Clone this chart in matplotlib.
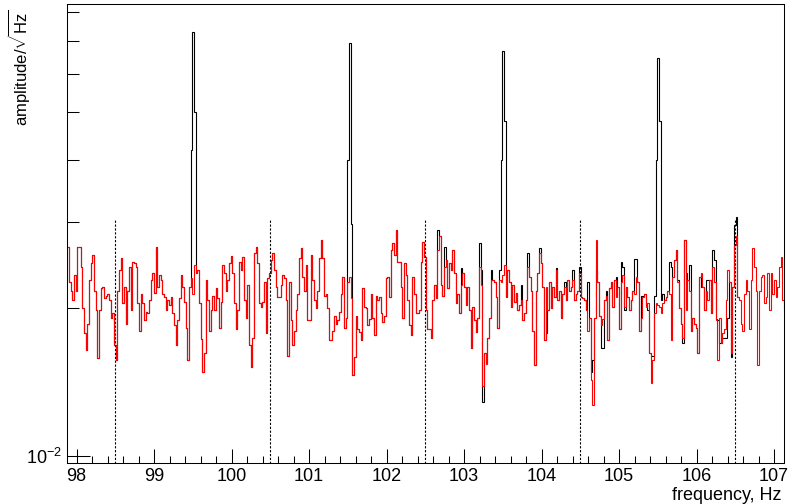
import numpy as np
import matplotlib
matplotlib.use('Agg')
import matplotlib.pyplot as plt
from matplotlib.ticker import FixedLocator, NullFormatter, MultipleLocator

# fonts (ROOT look: Helvetica -> Liberation Sans)
plt.rcParams['font.family'] = ['Liberation Sans', 'DejaVu Sans']
plt.rcParams['mathtext.fontset'] = 'custom'
plt.rcParams['mathtext.rm'] = 'Liberation Sans'
plt.rcParams['mathtext.it'] = 'Liberation Sans:italic'

# ---- data ----
freq_start = 97.879      # Hz, left edge of first bin
freq_step = 0.021511     # Hz, bin width

# amplitude spectra in units of 1e-3 / sqrt(Hz)
red_amp = [
    26.6, 22.6, 21.7, 20.8, 23.3, 21.7, 26.6, 26.6, 24.2, 20.0, 17.8, 16.4, 18.6, 22.8,
    24.7, 25.6, 21.7, 19.8, 15.8, 19.8, 22.0, 22.1, 21.0, 21.2, 21.4, 20.8, 19.1, 19.5,
    16.8, 15.7, 21.7, 23.9, 25.3, 20.5, 22.1, 18.6, 21.7, 24.2, 19.8, 24.8, 24.7, 24.2,
    20.5, 18.0, 21.4, 20.5, 18.9, 19.6, 19.5, 20.8, 22.8, 23.6, 21.5, 26.6, 22.1, 23.3,
    # 99 - 100.5
    22.8, 21.4, 21.1, 19.8, 20.8, 20.3, 21.1, 19.5, 18.5, 16.8, 18.9, 21.0, 23.3, 22.1,
    20.6, 18.2, 15.7, 22.1, 23.0, 21.4, 24.5, 23.6, 23.9, 20.5, 17.3, 14.8, 16.2, 22.8,
    20.8, 18.0, 19.8, 21.2, 19.8, 22.0, 21.0, 18.2, 20.6, 24.5, 23.6, 21.7, 22.8, 24.7,
    25.5, 23.6, 20.5, 18.1, 19.8, 24.8, 23.9, 25.4, 20.8, 19.1, 22.3, 16.8, 15.2, 17.4,
    25.9, 26.6, 24.7, 20.5, 20.1, 20.6, 22.6, 17.8, 23.0, 23.6, 25.0, 25.9, 23.9, 22.1,
    21.1, 21.1,
    # 100.6 - 102.5
    22.3, 23.3, 23.0, 20.8, 16.0, 22.6, 18.9, 16.8, 18.0, 19.8, 21.4, 25.3, 26.5, 23.1,
    21.7, 24.5, 18.9, 18.9, 25.6, 22.8, 20.8, 20.0, 21.7, 25.3, 27.5, 25.3, 21.2, 21.4,
    20.0, 17.2, 17.2, 18.0, 19.3, 18.6, 18.9, 19.6, 21.4, 23.1, 18.2, 19.1, 22.6, 23.1,
    21.0, 14.6, 15.9, 19.3, 18.1, 17.9, 17.2, 22.0, 20.1, 20.0, 18.5, 19.0, 21.4, 19.1,
    17.6, 21.2, 20.8, 21.1, 19.5, 18.7, 19.3, 23.0, 23.1, 21.1, 26.2, 27.1, 25.6, 28.8,
    24.8, 24.8, 22.1, 19.1, 24.7, 23.3, 20.8, 18.5, 17.6, 23.1, 21.4, 19.5, 19.5, 19.8,
    24.8, 27.2, 25.4, 19.8, 18.1, 18.1,
    # 102.6 - 104.8
    17.4, 20.8, 22.3, 21.0, 26.2, 28.1, 22.3, 21.2, 24.2, 25.0, 22.0, 24.7, 23.9, 26.2,
    23.6, 20.5, 21.4, 19.5, 22.3, 23.6, 22.1, 20.3, 22.1, 19.8, 16.6, 20.1, 18.9, 17.9,
    19.1, 24.2, 22.3, 13.9, 16.2, 15.4, 17.4, 19.1, 22.8, 22.8, 22.6, 21.1, 18.2, 22.8,
    22.6, 23.3, 24.5, 21.1, 23.9, 22.6, 20.1, 22.3, 20.6, 21.5, 19.8, 20.3, 20.8, 18.9,
    19.5, 20.8, 24.2, 23.1, 21.7, 18.0, 15.3, 21.7, 23.6, 25.9, 24.7, 22.1, 17.2, 22.1,
    19.8, 22.6, 20.0, 22.1, 21.1, 23.9, 20.8, 21.7, 19.1, 21.4, 22.1, 20.8, 22.8, 21.7,
    22.1, 22.8, 20.8, 21.4, 21.7, 23.6, 21.1, 21.0, 20.8, 19.8, 18.0, 19.1, 14.3, 12.7,
    19.1, 27.5, 22.6, 19.3,
    # 104.8 - 107.1
    18.5, 19.0, 20.8, 21.2, 17.2, 22.0, 22.6, 20.1, 22.8, 21.1, 22.1, 18.1, 22.6, 23.3,
    20.1, 22.1, 21.1, 19.8, 20.8, 21.7, 21.4, 23.1, 22.6, 18.0, 19.1, 21.1, 21.4, 20.1,
    20.5, 16.2, 14.1, 15.7, 19.5, 20.5, 20.3, 20.1, 19.5, 20.5, 20.8, 21.1, 21.7, 21.4,
    17.2, 23.1, 25.0, 26.2, 22.6, 20.0, 18.6, 17.4, 27.5, 19.8, 22.8, 21.7, 18.0, 19.1,
    18.6, 18.2, 16.2, 23.1, 23.6, 22.1, 19.8, 21.7, 20.8, 22.8, 19.5, 24.2, 22.6, 18.9,
    15.7, 19.1, 17.0, 17.8, 18.1, 20.8, 23.9, 22.6, 16.2, 22.1, 26.9, 28.0, 21.1, 20.8,
    18.6, 18.0, 21.4, 22.8, 21.7, 18.1, 22.8, 26.5, 24.2, 21.7, 15.3, 21.7, 23.1, 23.3,
    20.5, 21.1, 23.6, 19.8, 23.6, 21.4, 22.8, 21.1, 22.1, 24.2, 25.4, 20.8, 19.8,
]

black_amp = [
    26.6, 22.6, 21.7, 20.8, 23.3, 21.7, 26.6, 26.6, 24.2, 20.0, 17.8, 16.4, 18.6, 22.8,
    24.7, 25.6, 21.7, 19.8, 15.8, 19.8, 22.0, 22.1, 21.0, 21.2, 21.4, 20.8, 19.1, 19.5,
    16.8, 15.7, 21.7, 23.9, 25.3, 20.5, 22.1, 18.6, 21.7, 24.2, 19.8, 24.8, 24.7, 24.2,
    20.5, 18.0, 21.4, 20.5, 18.9, 19.6, 19.5, 20.8, 22.8, 23.6, 21.5, 26.6, 22.1, 23.3,
    # 99 - 100.5 (line at 99.5 Hz)
    22.8, 21.4, 21.1, 19.8, 20.8, 20.3, 21.1, 19.5, 18.5, 16.8, 18.9, 21.0, 23.3, 22.1,
    20.6, 18.2, 15.7, 22.1, 42.0, 72.8, 50.0, 23.6, 23.9, 20.5, 17.3, 14.8, 16.2, 22.8,
    20.8, 18.0, 19.8, 21.2, 19.8, 22.0, 21.0, 18.2, 20.6, 24.5, 23.6, 21.7, 22.8, 24.7,
    25.5, 23.6, 20.5, 18.1, 19.8, 24.8, 23.9, 25.4, 20.8, 19.1, 22.3, 16.8, 15.2, 17.4,
    25.9, 26.6, 24.7, 20.5, 20.1, 20.6, 22.6, 17.8, 23.0, 23.6, 25.0, 25.9, 23.9, 22.1,
    21.1, 21.1,
    # 100.6 - 102.5 (line at 101.5 Hz)
    22.3, 23.3, 23.0, 20.8, 16.0, 22.6, 18.9, 16.8, 18.0, 19.8, 21.4, 25.3, 26.5, 23.1,
    21.7, 24.5, 18.9, 18.9, 25.6, 22.8, 20.8, 20.0, 21.7, 25.3, 27.5, 25.3, 21.2, 21.4,
    20.0, 17.2, 17.2, 18.0, 19.3, 18.6, 18.9, 19.6, 21.4, 23.1, 18.2, 19.1, 40.0, 69.4,
    29.7, 14.6, 15.9, 19.3, 18.1, 17.9, 17.2, 22.0, 20.1, 20.0, 18.5, 19.0, 21.4, 19.1,
    17.6, 21.2, 20.8, 21.1, 19.5, 18.7, 19.3, 23.0, 23.1, 21.1, 26.2, 27.1, 25.6, 28.8,
    24.8, 24.8, 22.1, 19.1, 24.7, 23.3, 20.8, 18.5, 17.6, 23.1, 21.4, 19.5, 19.5, 19.8,
    24.8, 27.2, 25.4, 19.8, 18.1, 18.1,
    # 102.6 - 104.8 (line at 103.5 Hz)
    17.4, 20.8, 22.3, 21.0, 28.8, 28.1, 22.3, 21.2, 26.6, 25.0, 22.0, 24.7, 23.9, 26.2,
    23.6, 20.5, 21.4, 19.5, 24.1, 23.6, 22.1, 20.3, 22.1, 19.8, 16.6, 20.1, 18.9, 17.9,
    19.1, 27.1, 23.9, 12.9, 16.2, 15.5, 17.4, 19.1, 23.9, 22.8, 22.6, 21.1, 18.2, 23.9,
    40.0, 66.8, 48.0, 21.1, 23.9, 22.6, 20.1, 22.3, 20.6, 21.5, 19.8, 20.3, 22.3, 18.9,
    19.5, 20.8, 25.9, 23.1, 21.7, 18.0, 15.3, 21.7, 23.6, 26.5, 24.7, 22.1, 17.2, 17.8,
    19.8, 22.6, 20.0, 22.1, 21.1, 24.1, 20.8, 21.7, 19.1, 21.4, 22.6, 20.8, 22.8, 21.7,
    22.1, 23.9, 20.8, 21.4, 21.7, 24.2, 21.1, 21.0, 20.8, 19.8, 22.6, 19.1, 14.8, 15.7,
    19.1, 23.9, 22.6, 19.3,
    # 104.8 - 106.55 (line at 105.5 Hz)
    16.6, 16.6, 20.8, 21.7, 17.2, 22.0, 22.6, 20.1, 22.8, 23.1, 22.1, 18.1, 24.8, 24.2,
    19.8, 22.1, 21.1, 19.8, 20.8, 21.7, 25.2, 25.2, 22.6, 18.0, 21.2, 21.2, 21.4, 20.3,
    19.8, 16.2, 16.0, 16.0, 21.2, 40.0, 64.4, 48.0, 20.8, 21.4, 20.8, 21.1, 21.7, 24.8,
    24.2, 23.1, 25.0, 26.2, 22.8, 20.0, 18.6, 17.0, 27.5, 23.6, 22.8, 24.5, 18.0, 19.1,
    18.6, 18.2, 16.2, 23.1, 22.1, 22.1, 19.8, 22.8, 22.8, 22.8, 19.5, 26.2, 25.0, 19.0,
    18.9, 17.0, 17.0, 17.4, 17.4, 17.4, 19.1, 22.6, 15.9, 22.1, 29.5, 30.7, 21.1,
]

marker_freqs = [98.5, 100.5, 102.5, 104.5, 106.5]   # dotted reference lines
marker_top = 0.0302

# ---- figure ----
fig = plt.figure(figsize=(7.89, 5.04), dpi=100, facecolor='white')
ax = fig.add_axes([67.3 / 789, 41 / 504, 716.7 / 789, 458.7 / 504])

black = np.array(black_amp) * 1e-3
red = np.array(red_amp) * 1e-3
black_edges = freq_start + freq_step * np.arange(len(black) + 1)
red_edges = freq_start + freq_step * np.arange(len(red) + 1)

ax.stairs(black, black_edges, baseline=None, color='black', linewidth=0.8)
ax.stairs(red, red_edges, baseline=None, color='#ff0000', linewidth=0.8)
ax.vlines(marker_freqs, 0.009, marker_top, colors='black',
          linestyles=(0, (2, 1.5)), linewidth=0.8)

ax.set_yscale('log')
ax.set_xlim(97.879, 107.129)
ax.set_ylim(0.00968, 0.083)

# y axis: only 10^-2 labelled
ax.set_yticks([0.01], [r'$10^{-2}$'])
ax.yaxis.set_minor_locator(FixedLocator([0.02, 0.03, 0.04, 0.05, 0.06, 0.07, 0.08]))
ax.yaxis.set_minor_formatter(NullFormatter())
ax.tick_params(axis='y', which='major', direction='in', length=16.5, width=0.75,
               labelsize=13, pad=3.5)
ax.tick_params(axis='y', which='minor', direction='in', length=8.5, width=0.75)

ax.xaxis.set_major_locator(MultipleLocator(1))
ax.xaxis.set_minor_locator(MultipleLocator(0.2))
ax.tick_params(axis='x', which='major', direction='in', length=10, width=0.75,
               labelsize=13, pad=3.5)
ax.tick_params(axis='x', which='minor', direction='in', length=5, width=0.75)

for spine in ax.spines.values():
    spine.set_linewidth(0.75)

ax.set_xlabel('frequency, Hz', fontsize=13, ha='right', va='top')
ax.xaxis.set_label_coords(0.996, -0.052)
ax.set_ylabel(r'amplitude/$\sqrt{\mathrm{Hz}}$', fontsize=12, loc='top')
ax.yaxis.set_label_coords(-0.049, 0.99)

fig.savefig('out.png', dpi=100, facecolor='white')
